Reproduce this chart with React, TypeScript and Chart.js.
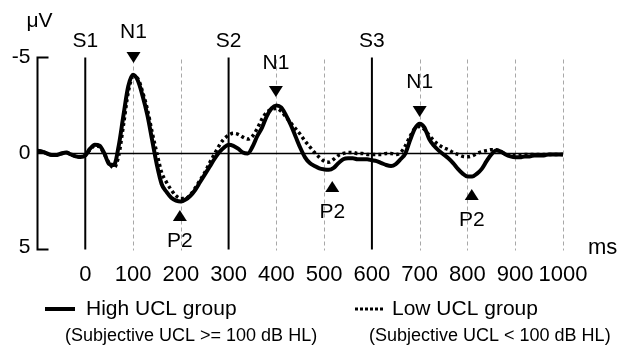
import React, { useEffect, useRef } from "react";
import { Chart, registerables } from "chart.js";
Chart.register(...registerables);

// time axis (ms)
const timesMs = [
  -100, -90, -80, -70, -60, -50, -40, -30, -20, -10,
  0, 10, 20, 30, 40, 50, 60, 70, 80, 90,
  100, 110, 120, 130, 140, 150, 160, 170, 180, 190,
  200, 210, 220, 230, 240, 250, 260, 270, 280, 290,
  300, 310, 320, 330, 340, 350, 360, 370, 380, 390,
  400, 410, 420, 430, 440, 450, 460, 470, 480, 490,
  500, 510, 520, 530, 540, 550, 560, 570, 580, 590,
  600, 610, 620, 630, 640, 650, 660, 670, 680, 690,
  700, 710, 720, 730, 740, 750, 760, 770, 780, 790,
  800, 810, 820, 830, 840, 850, 860, 870, 880, 890,
  900, 910, 920, 930, 940, 950, 960, 970, 980, 990,
  1000,
];

// High UCL group (μV)
const highUcl = [
  -0.15, -0.1, 0.0, 0.08, 0.08, 0.0, -0.05, 0.05, 0.15, 0.18,
  0.1, -0.25, -0.45, -0.4, 0.0, 0.55, 0.6, -0.4, -2.0, -3.5,
  -4.1, -3.8, -3.0, -2.0, -0.7, 0.6, 1.6, 2.0, 2.3, 2.45,
  2.5, 2.4, 2.2, 1.9, 1.5, 1.1, 0.7, 0.3, -0.05, -0.3,
  -0.45, -0.4, -0.25, -0.05, 0.0, -0.35, -0.9, -1.35, -1.95, -2.35,
  -2.5, -2.4, -2.0, -1.5, -0.9, -0.3, 0.2, 0.5, 0.65, 0.78,
  0.83, 0.85, 0.75, 0.5, 0.3, 0.25, 0.25, 0.3, 0.3, 0.3,
  0.35, 0.4, 0.5, 0.6, 0.65, 0.55, 0.3, 0.0, -0.7, -1.3,
  -1.55, -1.35, -0.75, -0.4, -0.15, 0.05, 0.25, 0.5, 0.8, 1.05,
  1.2, 1.2, 1.05, 0.8, 0.4, 0.05, -0.15, -0.1, 0.05, 0.15,
  0.2, 0.2, 0.15, 0.15, 0.1, 0.1, 0.1, 0.05, 0.05, 0.05,
  0.05,
];

// Low UCL group (μV)
const lowUcl = [
  -0.15, -0.1, 0.0, 0.08, 0.08, 0.0, -0.05, 0.05, 0.15, 0.18,
  0.1, -0.2, -0.4, -0.35, 0.05, 0.5, 0.75, 0.1, -1.5, -3.2,
  -4.0, -3.9, -3.2, -2.3, -1.1, 0.0, 1.0, 1.5, 1.9, 2.2,
  2.35, 2.35, 2.15, 1.8, 1.4, 1.0, 0.5, 0.05, -0.4, -0.75,
  -0.95, -1.05, -1.0, -0.85, -0.75, -0.9, -1.3, -1.8, -2.15, -2.3,
  -2.35, -2.2, -1.9, -1.6, -1.3, -1.0, -0.65, -0.35, -0.05, 0.2,
  0.4, 0.45, 0.3, 0.1, 0.0, -0.05, -0.05, 0.0, 0.0, 0.05,
  0.05, 0.05, 0.05, 0.0, 0.0, 0.05, -0.05, -0.4, -0.9, -1.3,
  -1.4, -1.25, -0.95, -0.65, -0.45, -0.3, -0.2, -0.05, 0.05, 0.15,
  0.17, 0.12, 0.0, -0.1, -0.15, -0.2, -0.2, -0.1, 0.05, 0.1,
  0.1, 0.08, 0.05, 0.05, 0.05, 0.05, 0.05, 0.05, 0.05, 0.05,
  0.05,
];

const xTickValues = [0, 100, 200, 300, 400, 500, 600, 700, 800, 900, 1000];
const xTickLabels = ["0", "100", "200", "300", "400", "500", "600", "700", "800", "900", "1000"];
const gridValues = [100, 200, 400, 500, 700, 800, 900, 1000];
const stimulusTimes = [0, 300, 600];
const stimulusLabels = ["S1", "S2", "S3"];
const stimulusLabelY = -5.86;
const yTickValues = [-5, 0, 5];
const yTickLabels = ["-5", "0", "5"];

// peak annotations
const peakNames = ["N1", "N1", "N1", "P2", "P2", "P2"];
const peakTimes = [101, 399, 700, 198, 517, 809];
const peakTextY = [-6.3, -4.71, -3.72, 4.56, 3.05, 3.46];
const peakMarkerTipY = [-4.71, -2.94, -1.9, 2.94, 1.43, 1.85];

const seriesNames = ["High UCL group", "Low UCL group"];
const seriesNotes = ["(Subjective UCL >= 100 dB HL)", "(Subjective UCL < 100 dB HL)"];

const FONT = "'Liberation Sans', Arial, sans-serif";

const overlayPlugin = {
  id: "erpOverlay",
  beforeDatasetsDraw(chart: any) {
    const ctx = chart.ctx;
    const xs = chart.scales.x;
    const ys = chart.scales.y;
    const top = ys.getPixelForValue(-5);
    const bottom = ys.getPixelForValue(5);
    ctx.save();
    // dotted grid
    ctx.strokeStyle = "#a8a8a8";
    ctx.lineWidth = 1;
    ctx.setLineDash([4, 3]);
    gridValues.forEach((v) => {
      const x = Math.round(xs.getPixelForValue(v)) + 0.5;
      ctx.beginPath();
      ctx.moveTo(x, top + 2);
      ctx.lineTo(x, bottom + 1);
      ctx.stroke();
    });
    ctx.setLineDash([]);
    // stimulus lines
    ctx.strokeStyle = "#000";
    ctx.lineWidth = 2;
    stimulusTimes.forEach((v) => {
      const x = xs.getPixelForValue(v);
      ctx.beginPath();
      ctx.moveTo(x, top);
      ctx.lineTo(x, bottom);
      ctx.stroke();
    });
    // zero line
    const y0 = ys.getPixelForValue(0);
    ctx.lineWidth = 1.5;
    ctx.beginPath();
    ctx.moveTo(xs.getPixelForValue(-100), y0);
    ctx.lineTo(xs.getPixelForValue(1000), y0);
    ctx.stroke();
    // y axis
    const xa = xs.getPixelForValue(-100);
    ctx.lineWidth = 2;
    ctx.beginPath();
    ctx.moveTo(xa + 11, top);
    ctx.lineTo(xa, top);
    ctx.lineTo(xa, bottom);
    ctx.lineTo(xa + 11, bottom);
    ctx.stroke();
    ctx.restore();
  },
  afterDatasetsDraw(chart: any) {
    const ctx = chart.ctx;
    const xs = chart.scales.x;
    const ys = chart.scales.y;
    const area = chart.chartArea;
    ctx.save();
    ctx.fillStyle = "#000";
    ctx.font = `21px ${FONT}`;
    ctx.textBaseline = "middle";
    // y ticks
    ctx.textAlign = "right";
    yTickValues.forEach((v, i) => {
      ctx.fillText(yTickLabels[i], area.left - 7, ys.getPixelForValue(v) + (v === 5 ? -2 : 0));
    });
    // unit
    ctx.textAlign = "center";
    ctx.fillText("μV", area.left + 2, area.top - 36);
    // x ticks
    ctx.font = `22px ${FONT}`;
    xTickValues.forEach((v, i) => {
      ctx.fillText(xTickLabels[i], xs.getPixelForValue(v), area.bottom + 25);
    });
    ctx.textAlign = "left";
    ctx.fillText("ms", area.right + 25, area.bottom - 2);
    ctx.font = `21px ${FONT}`;
    // stimulus labels
    ctx.textAlign = "center";
    stimulusTimes.forEach((v, i) => {
      ctx.fillText(stimulusLabels[i], xs.getPixelForValue(v), ys.getPixelForValue(stimulusLabelY));
    });
    // peaks
    peakNames.forEach((name, i) => {
      const x = xs.getPixelForValue(peakTimes[i]);
      ctx.fillText(name, x, ys.getPixelForValue(peakTextY[i]));
      const tip = ys.getPixelForValue(peakMarkerTipY[i]);
      const isNeg = peakMarkerTipY[i] < 0;
      const h = 11;
      const w = 14;
      ctx.beginPath();
      if (isNeg) {
        ctx.moveTo(x, tip);
        ctx.lineTo(x - w / 2, tip - h);
        ctx.lineTo(x + w / 2, tip - h);
      } else {
        ctx.moveTo(x, tip);
        ctx.lineTo(x - w / 2, tip + h);
        ctx.lineTo(x + w / 2, tip + h);
      }
      ctx.closePath();
      ctx.fill();
    });
    // legend
    const legY = 309;
    const noteY = 336;
    const items = [
      { lineX: 45, textX: 86, noteX: 65, dash: [] as number[], width: 4 },
      { lineX: 355, textX: 392, noteX: 369, dash: [3, 2], width: 3 },
    ];
    items.forEach((it, i) => {
      ctx.strokeStyle = "#000";
      ctx.lineWidth = it.width;
      ctx.setLineDash(it.dash);
      ctx.beginPath();
      ctx.moveTo(it.lineX, legY);
      ctx.lineTo(it.lineX + 30, legY);
      ctx.stroke();
      ctx.setLineDash([]);
      ctx.textAlign = "left";
      ctx.font = `21px ${FONT}`;
      ctx.fillText(seriesNames[i], it.textX, legY);
      ctx.font = `18px ${FONT}`;
      ctx.fillText(seriesNotes[i], it.noteX, noteY);
    });
    ctx.restore();
  },
};

export default function App() {
  const ref = useRef<HTMLCanvasElement | null>(null);
  useEffect(() => {
    if (!ref.current) return;
    const chart = new Chart(ref.current, {
      type: "line",
      data: {
        datasets: [
          {
            label: seriesNames[0],
            data: timesMs.map((t, i) => ({ x: t, y: highUcl[i] })),
            borderColor: "#000",
            borderWidth: 4,
            pointRadius: 0,
            cubicInterpolationMode: "monotone",
            fill: false,
          },
          {
            label: seriesNames[1],
            data: timesMs.map((t, i) => ({ x: t, y: lowUcl[i] })),
            borderColor: "#000",
            borderWidth: 3.5,
            borderDash: [3, 3],
            pointRadius: 0,
            cubicInterpolationMode: "monotone",
            fill: false,
          },
        ],
      },
      options: {
        animation: false,
        responsive: false,
        devicePixelRatio: 1,
        layout: { padding: { left: 37.5, right: 57, top: 57.5, bottom: 102.5 } },
        plugins: { legend: { display: false }, tooltip: { enabled: false } },
        scales: {
          x: { type: "linear", min: -100, max: 1000, display: false },
          y: { type: "linear", min: -5, max: 5, reverse: true, display: false },
        },
      },
      plugins: [overlayPlugin],
    } as any);
    return () => chart.destroy();
  }, []);
  return (
    <div style={{ position: "fixed", left: 0, top: 0, width: 620, height: 352, background: "#fff" }}>
      <canvas ref={ref} width={620} height={352} />
    </div>
  );
}
